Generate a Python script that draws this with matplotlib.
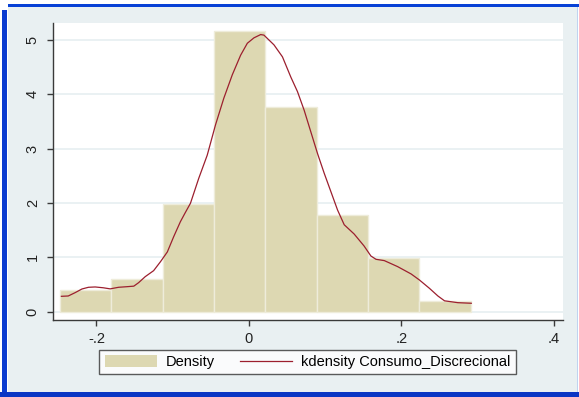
import numpy as np
import matplotlib.pyplot as plt
from matplotlib.patches import Rectangle, Patch
from matplotlib.lines import Line2D

plt.rcParams['font.family'] = ['Liberation Sans', 'DejaVu Sans']

# histogram (density scale), 8 equal bins
bin_edges = np.linspace(-0.248, 0.291, 9)
densities = [0.40, 0.60, 1.99, 5.17, 3.76, 1.78, 0.99, 0.20]

# kernel density
kd_x = [-0.246, -0.237, -0.228, -0.219, -0.2105, -0.2017, -0.191, -0.182, -0.171, -0.160,
        -0.151, -0.1447, -0.136, -0.125, -0.116, -0.107, -0.0987, -0.0899, -0.084, -0.0767,
        -0.0658, -0.0547, -0.0438, -0.0329, -0.0218, -0.0109, -0.0021, 0.0066, 0.0154, 0.0197,
        0.0329, 0.044, 0.0549, 0.0637, 0.0724, 0.0812, 0.090, 0.0987, 0.1075, 0.1163,
        0.125, 0.138, 0.151, 0.160, 0.1667, 0.1776, 0.195, 0.2128, 0.2237, 0.2368,
        0.2479, 0.2566, 0.274, 0.2917]
kd_y = [0.283, 0.289, 0.35, 0.418, 0.449, 0.455, 0.44, 0.42, 0.449, 0.46,
        0.47, 0.534, 0.645, 0.755, 0.92, 1.10, 1.38, 1.656, 1.81, 1.995,
        2.455, 2.88, 3.44, 3.93, 4.36, 4.72, 4.94, 5.04, 5.10, 5.09,
        4.91, 4.69, 4.32, 4.05, 3.71, 3.31, 2.91, 2.55, 2.21, 1.87,
        1.60, 1.43, 1.21, 1.025, 0.964, 0.94, 0.83, 0.694, 0.583, 0.43,
        0.289, 0.20, 0.166, 0.155]

xticks = [-0.2, 0, 0.2, 0.4]
xticklabels = ['-.2', '0', '.2', '.4']
yticks = [0, 1, 2, 3, 4, 5]
yticklabels = ['0', '1', '2', '3', '4', '5']

W, H = 579, 397
bg = '#E9F0F2'
bar_col = '#DDD8B2'
kd_col = '#9C1F2E'

fig = plt.figure(figsize=(W / 100, H / 100), dpi=100, facecolor='white')

def fbox(x0, y0, x1, y1):
    # pixel box (top-left origin) -> figure fraction rect
    return (x0 / W, 1 - y1 / H, (x1 - x0) / W, (y1 - y0) / H)

def frect(x0, y0, x1, y1, color):
    l, b, w, h = fbox(x0, y0, x1, y1)
    fig.add_artist(Rectangle((l, b), w, h, transform=fig.transFigure,
                             facecolor=color, edgecolor='none', zorder=0))

# window frame
frect(8, 7, 577, 392, bg)
frect(8, 4, 579, 7, '#0841D6')
frect(2, 10, 7, 397, '#0A3BD0')
frect(0, 392, 579, 397, '#0A36C4')
frect(577, 7, 578, 392, '#BFD3F0')

ax = fig.add_axes(fbox(53, 23, 563, 320))
ax.set_facecolor('white')

ax.bar(bin_edges[:-1], densities, width=np.diff(bin_edges), align='edge',
       color=bar_col, edgecolor='#EEECDA', linewidth=1, zorder=2, label='Density')
ax.plot(kd_x, kd_y, color=kd_col, lw=0.9, zorder=3,
        label='kdensity Consumo_Discrecional')

ax.set_xlim(-0.257, 0.412)
ax.set_ylim(-0.153, 5.313)

ax.set_xticks(xticks, xticklabels)
ax.set_yticks(yticks, yticklabels)
ax.yaxis.grid(True, color='#E6EFF1', lw=1.2, zorder=1)
ax.set_axisbelow(True)

for s in ['top', 'right']:
    ax.spines[s].set_visible(False)
for s in ['left', 'bottom']:
    ax.spines[s].set_color('#3a3a3a')
    ax.spines[s].set_linewidth(1)

ax.tick_params(axis='both', colors='#3a3a3a', labelcolor='#222222', length=4.5,
               width=1, labelsize=10.5)
ax.tick_params(axis='x', pad=4)
ax.tick_params(axis='y', pad=5)
for lab in ax.get_yticklabels():
    lab.set_rotation(90)
    lab.set_va('center')

handles = [Patch(facecolor=bar_col, edgecolor='none', label='Density'),
           Line2D([], [], color=kd_col, lw=0.9, label='kdensity Consumo_Discrecional')]
leg = fig.legend(handles=handles, loc='center', bbox_to_anchor=(307.5 / W, 1 - 362 / H),
                 ncol=2, fontsize=10.5, frameon=True, fancybox=False,
                 handlelength=3.6, handleheight=0.9, handletextpad=0.6,
                 columnspacing=1.7, borderpad=0.35, borderaxespad=0)
leg.get_frame().set_edgecolor('#333333')
leg.get_frame().set_linewidth(1)
leg.get_frame().set_facecolor('white')

fig.savefig('out.png', dpi=100, facecolor=fig.get_facecolor())
